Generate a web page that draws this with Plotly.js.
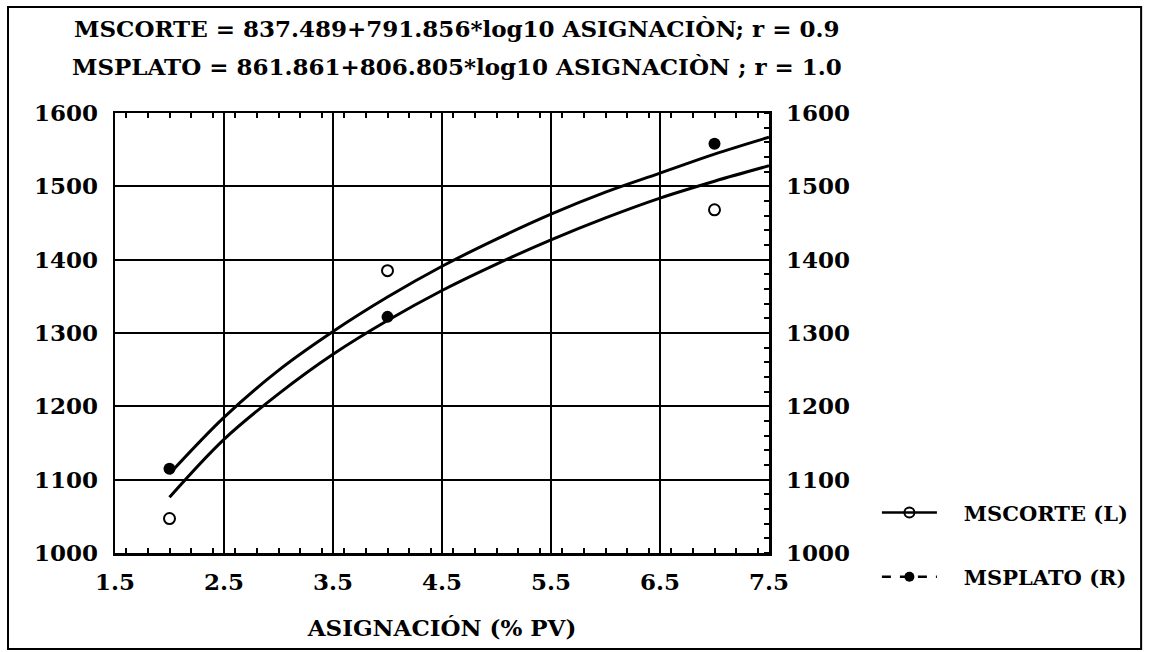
<!DOCTYPE html>
<html>
<head>
<meta charset="utf-8">
<script src="https://cdn.plot.ly/plotly-3.0.1.min.js"></script>
<style>
html,body{margin:0;padding:0;background:#fff;}
#chart{width:1150px;height:652px;}
</style>
</head>
<body>
<div id="chart"></div>
<script>
const obsX = [2, 4, 7];
const msCorte = [1047, 1385, 1468];
const msPlato = [1115, 1322, 1558];

// Fitted curves
const fitX = [2, 2.5, 3, 3.5, 4, 4.5, 5, 5.5, 6, 6.5, 7, 7.5];
const fitCorte = [1076, 1155, 1217, 1271, 1317, 1358, 1394, 1427, 1457, 1484, 1507, 1528];
const fitPlato = [1108, 1185, 1249, 1302, 1349, 1391, 1428, 1462, 1492, 1518, 1544, 1567];

const xTicks = [1.5, 2.5, 3.5, 4.5, 5.5, 6.5, 7.5];
const yTicks = [1000, 1100, 1200, 1300, 1400, 1500, 1600];

const titleLine1 = "MSCORTE = 837.489+791.856*log10 ASIGNACIÒN; r = 0.9";
const titleLine2 = "MSPLATO = 861.861+806.805*log10 ASIGNACIÒN ; r = 1.0";
const xTitle = "ASIGNACIÓN (% PV)";
const legCorte = "MSCORTE (L)";
const legPlato = "MSPLATO (R)";

const FONT = "DejaVu Serif, Liberation Serif, serif";
const PAD = "\u00a0\u00a0\u00a0";

const traces = [
  {x: fitX, y: fitCorte, mode: 'lines', line: {color: '#000', width: 3, shape: 'spline', smoothing: 1}, showlegend: false, hoverinfo: 'skip'},
  {x: fitX, y: fitPlato, mode: 'lines', line: {color: '#000', width: 3, shape: 'spline', smoothing: 1}, showlegend: false, yaxis: 'y2', hoverinfo: 'skip'},
  {x: obsX, y: msCorte, mode: 'markers', marker: {symbol: 'circle-open', size: 11, color: '#000', line: {width: 2, color: '#000'}}, showlegend: false},
  {x: obsX, y: msPlato, mode: 'markers', marker: {symbol: 'circle', size: 12, color: '#000'}, showlegend: false, yaxis: 'y2'},
  {x: [null], y: [null], mode: 'lines+markers', name: PAD + legCorte, legendgroup: 'a',
   line: {color: '#000', width: 2.5}, marker: {symbol: 'circle-open', size: 10, color: '#000', line: {width: 2, color: '#000'}}},
  {x: [null], y: [null], mode: 'lines+markers', name: PAD + legPlato, legendgroup: 'b', yaxis: 'y2',
   line: {color: '#000', width: 2.5, dash: 'dash'}, marker: {symbol: 'circle', size: 10, color: '#000'}}
];

const axisFont = {family: FONT, size: 23, color: '#000', weight: 'bold'};

const layout = {
  width: 1150, height: 652,
  margin: {l: 115, r: 381, t: 113, b: 99},
  paper_bgcolor: '#fff', plot_bgcolor: '#fff',
  font: {family: FONT, color: '#000'},
  showlegend: true,
  legend: {
    x: 1.165, y: 0.138, xanchor: 'left', yanchor: 'top',
    font: {family: FONT, size: 21, color: '#000', weight: 'bold'},
    traceorder: 'grouped', tracegroupgap: 34, itemwidth: 55,
    bgcolor: 'rgba(0,0,0,0)'
  },
  xaxis: {
    range: [1.5, 7.5], tickvals: xTicks, ticktext: xTicks.map(v => v.toFixed(1)),
    showgrid: true, gridcolor: '#000', gridwidth: 2,
    showline: true, linecolor: '#000', linewidth: 2.5, mirror: 'ticks',
    ticks: '', zeroline: false, tickfont: axisFont, ticklabelstandoff: 7,
    minor: {dtick: 0.2, ticks: 'inside', ticklen: 5, tickcolor: '#000', tickwidth: 2, showgrid: false},
    title: {text: xTitle, font: {family: FONT, size: 23, color: '#000', weight: 'bold'}, standoff: 26}
  },
  yaxis: {
    range: [1000, 1600], tickvals: yTicks,
    showgrid: true, gridcolor: '#000', gridwidth: 2,
    showline: true, linecolor: '#000', linewidth: 2.5,
    ticks: '', zeroline: false, tickfont: axisFont, ticklabelstandoff: 10
  },
  yaxis2: {
    range: [1000, 1600], tickvals: yTicks, overlaying: 'y', side: 'right',
    showgrid: false, showline: true, linecolor: '#000', linewidth: 2.5,
    ticks: '', zeroline: false, tickfont: axisFont, ticklabelstandoff: 10,
    minor: {dtick: 20, ticks: 'inside', ticklen: 5, tickcolor: '#000', tickwidth: 2, showgrid: false}
  },
  annotations: [
    {text: titleLine1, xref: 'paper', yref: 'paper', x: 0.523, y: 1.193, xanchor: 'center', yanchor: 'middle', showarrow: false,
     font: {family: FONT, size: 23, color: '#000', weight: 'bold'}},
    {text: titleLine2, xref: 'paper', yref: 'paper', x: 0.523, y: 1.105, xanchor: 'center', yanchor: 'middle', showarrow: false,
     font: {family: FONT, size: 23, color: '#000', weight: 'bold'}}
  ],
  shapes: [
    {type: 'rect', xref: 'paper', yref: 'paper', x0: -0.1636, x1: 1.569, y0: -0.218, y1: 1.241,
     line: {color: '#000', width: 2}, fillcolor: 'rgba(0,0,0,0)', layer: 'below'}
  ]
};

Plotly.newPlot('chart', traces, layout, {displayModeBar: false, staticPlot: true});
</script>
</body>
</html>
